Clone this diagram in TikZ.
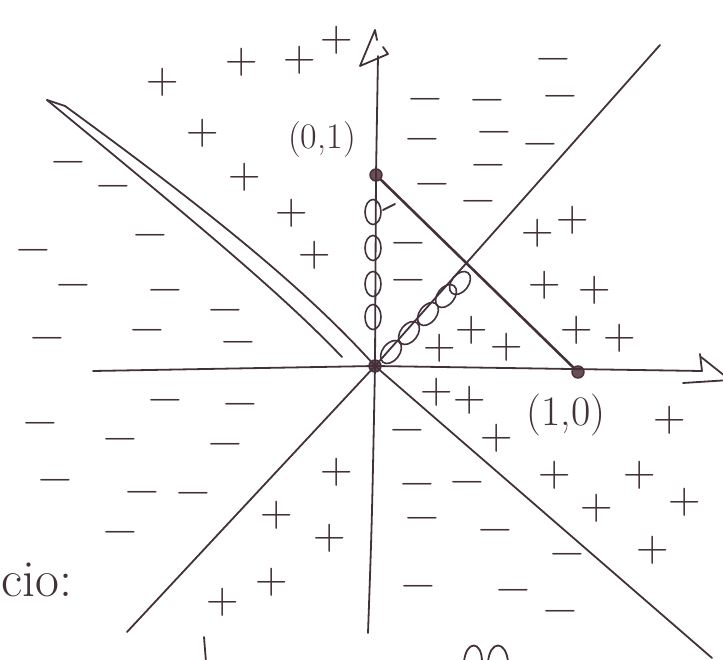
\documentclass[tikz,border=0pt]{standalone}
\usepackage{fontspec}
\definecolor{ink}{RGB}{66,48,58}
\definecolor{dotfill}{RGB}{110,78,86}
\newcommand{\wideminus}{\scalebox{1.35}[1]{\bfseries −}}
\begin{document}
\begin{tikzpicture}[x=1pt,y=-1pt,
  stroke/.style={draw=ink,line width=1.8pt,line cap=round,line join=round},
  bold/.style={draw=ink,line width=2.6pt,line cap=round},
  pl/.style={text=ink,font=\fontsize{45}{45}\selectfont,inner sep=0pt},
  mi/.style={text=ink,font=\fontsize{29}{29}\selectfont,inner sep=0pt},
  lbl/.style={text=ink,inner sep=0pt},
  oval/.style={draw=ink,line width=1.6pt},
  dot/.style={circle,fill=dotfill,draw=ink,line width=1.4pt,minimum size=12pt,inner sep=0pt}]
\useasboundingbox (0,0) rectangle (723,660);
% key points
\node[dot] (O) at (375,366) {};
\node[dot] (P01) at (376,175) {};
\node[dot] (P10) at (578,372) {};
\coordinate (ytop) at (378,56);
\coordinate (ybot) at (368,633);
\coordinate (xleft) at (93,371);
\coordinate (xright) at (702,371);
\coordinate (dA) at (127,632);
\coordinate (dB) at (660,45);
\coordinate (aD) at (712,658);
\coordinate (uA) at (47,100);
\coordinate (uB) at (65,106);
\coordinate (uEnd) at (342,357);
% axes
\draw[stroke] (ybot) .. controls (372,520) .. (O.center) -- (P01.center) -- (ytop);
\draw[stroke] (383,47) -- (388,54) -- (360,66) -- (375,30) -- (377,40);
\draw[stroke] (xleft) -- (O.center) -- (xright);
\draw[stroke] (700,354) -- (xright);
\draw[stroke] (701,357) -- (730,380) -- (683,383);
% lines
\draw[stroke] (dA) -- (O.center) -- (dB);
\draw[stroke] (O.center) -- (aD);
\draw[bold] (P01) -- (P10);
\draw[stroke] (uA) -- (uB);
\draw[stroke] (uA) .. controls (190,218) and (280,292) .. (uEnd);
\draw[stroke] (uB) .. controls (205,208) and (305,288) .. (O.center);
% ovals on y-axis
\foreach \yy in {212,248,284,317}
  \draw[oval] (373,\yy) ellipse [x radius=8pt, y radius=12.5pt];
\draw[stroke] (383,210) -- (395,204);
% ovals on diagonal
\foreach \xx/\yy in {391/352,409/333,428/314,446/296,460/283}
  \draw[oval,shift={(\xx,\yy)},rotate=-38] (0,0) ellipse [x radius=8.5pt, y radius=13pt];
% labels
\node[lbl,font=\fontsize{36}{36}\selectfont] (L01) at (322,140) {(0,1)};
\node[lbl,font=\fontsize{42}{42}\selectfont] (L10) at (566,415) {(1,0)};
\node[lbl,font=\fontsize{52}{52}\selectfont,anchor=west] (cio) at (1,580) {cio:};
% plus signs
\foreach \xx/\yy [count=\i] in {163/82,242/62,300/60,337/40,203/133,245/177,292/213,315/255,
  538/233,573/220,545/285,595/290,472/330,507/347,577/330,620/338,440/348,
  337/472,277/515,330/538,272/582,223/602,
  437/392,470/400,497/438,670/420,555/475,640/475,597/508,685/502,653/550}
  \node[pl] (p\i) at (\xx,\yy) {+};
% minus signs
\foreach \xx/\yy [count=\i] in {68/165,113/189,150/238,33/253,73/288,165/293,225/313,147/333,47/341,238/345,
  553/62,560/99,425/102,487/103,422/142,494/135,540/147,488/168,432/187,478/204,408/246,408/283,
  165/403,240/407,40/426,120/442,225/447,55/483,142/495,193/496,120/535,
  407/433,417/487,467/485,422/521,495/533,567/557,418/589,513/593,560/614}
  \node[mi] (m\i) at (\xx,\yy) {\wideminus};
% cut-off strokes at bottom
\draw[stroke] (204,637) -- (206,662);
\draw[stroke] (464,662) .. controls (466,640) and (482,640) .. (482,662);
\draw[stroke] (488,662) .. controls (490,640) and (506,640) .. (508,662);
\end{tikzpicture}
\end{document}
